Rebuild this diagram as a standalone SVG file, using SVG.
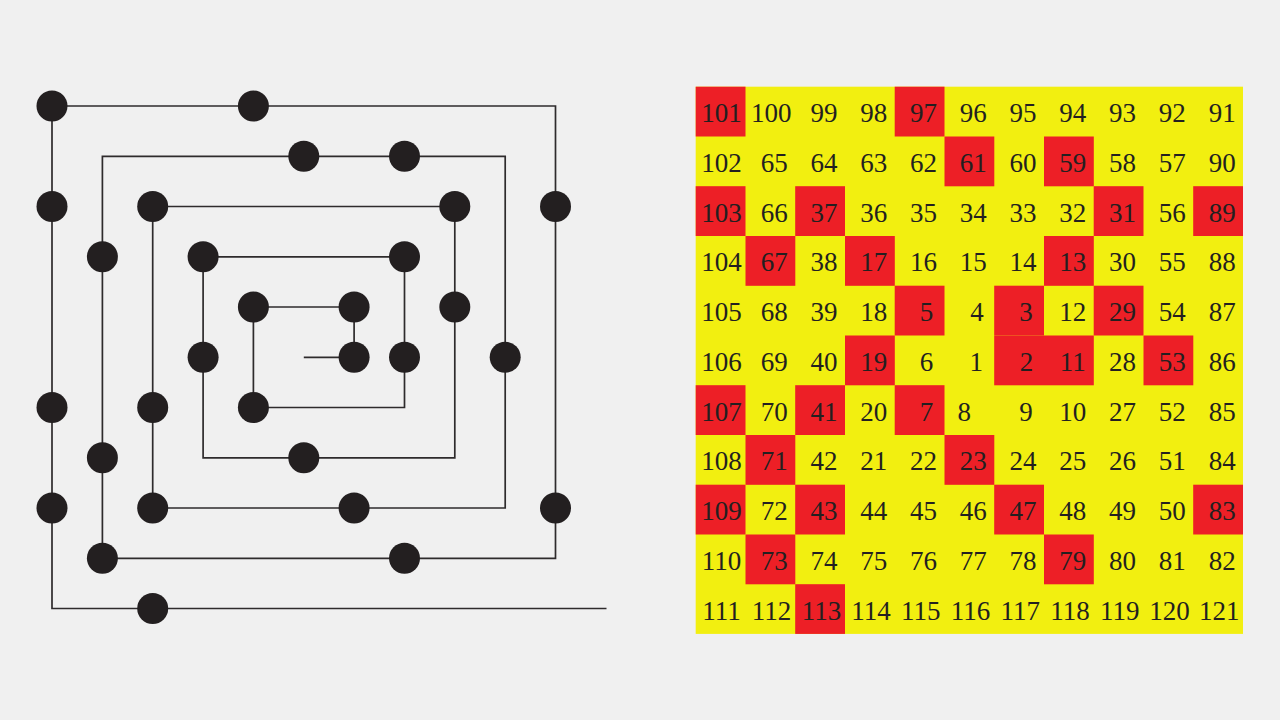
<svg xmlns="http://www.w3.org/2000/svg" width="1280" height="720" viewBox="0 0 1280 720">
<style>
.bg{fill:#f0f0f0}
.wire{fill:none;stroke:#2e2b2c;stroke-width:1.7}
.dot{fill:#231f20}
.yel{fill:#f2ef10}
.red{fill:#ed1f26}
.n{font-family:"Liberation Serif","Times New Roman",serif;font-size:27px;fill:#231f20;text-anchor:middle}
</style>
<rect class="bg" x="0" y="0" width="1280" height="720"/>
<g id="connectors">
<path class="wire" d="M303.8 357.3 H354.1 V307 H253.4 V407.5 H404.5 V256.8 H203.1 V457.8 H454.8 V206.5 H152.7 V508 H505.2 V156.3 H102.4 V558.3 H555.5 V106 H52 V608.5 H606.5"/>
</g>
<g id="primes-spiral">
<circle class="dot" cx="354.1" cy="357.3" r="15.5"/>
<circle class="dot" cx="354.1" cy="307" r="15.5"/>
<circle class="dot" cx="253.4" cy="307" r="15.5"/>
<circle class="dot" cx="253.4" cy="407.5" r="15.5"/>
<circle class="dot" cx="404.5" cy="357.3" r="15.5"/>
<circle class="dot" cx="404.5" cy="256.8" r="15.5"/>
<circle class="dot" cx="203.1" cy="256.8" r="15.5"/>
<circle class="dot" cx="203.1" cy="357.3" r="15.5"/>
<circle class="dot" cx="303.8" cy="457.8" r="15.5"/>
<circle class="dot" cx="454.8" cy="307" r="15.5"/>
<circle class="dot" cx="454.8" cy="206.5" r="15.5"/>
<circle class="dot" cx="152.7" cy="206.5" r="15.5"/>
<circle class="dot" cx="152.7" cy="407.5" r="15.5"/>
<circle class="dot" cx="152.7" cy="508" r="15.5"/>
<circle class="dot" cx="354.1" cy="508" r="15.5"/>
<circle class="dot" cx="505.2" cy="357.3" r="15.5"/>
<circle class="dot" cx="404.5" cy="156.3" r="15.5"/>
<circle class="dot" cx="303.8" cy="156.3" r="15.5"/>
<circle class="dot" cx="102.4" cy="256.8" r="15.5"/>
<circle class="dot" cx="102.4" cy="457.8" r="15.5"/>
<circle class="dot" cx="102.4" cy="558.3" r="15.5"/>
<circle class="dot" cx="404.5" cy="558.3" r="15.5"/>
<circle class="dot" cx="555.5" cy="508" r="15.5"/>
<circle class="dot" cx="555.5" cy="206.5" r="15.5"/>
<circle class="dot" cx="253.4" cy="106" r="15.5"/>
<circle class="dot" cx="52" cy="106" r="15.5"/>
<circle class="dot" cx="52" cy="206.5" r="15.5"/>
<circle class="dot" cx="52" cy="407.5" r="15.5"/>
<circle class="dot" cx="52" cy="508" r="15.5"/>
<circle class="dot" cx="152.7" cy="608.5" r="15.5"/>
</g>
<g id="grid">
<rect class="yel" x="695.7" y="86.7" width="547.3" height="547.2"/>
<rect class="red" x="695.7" y="86.7" width="49.8" height="49.8"/>
<rect class="red" x="894.7" y="86.7" width="49.8" height="49.8"/>
<rect class="red" x="944.5" y="136.5" width="49.8" height="49.8"/>
<rect class="red" x="1044" y="136.5" width="49.8" height="49.8"/>
<rect class="red" x="695.7" y="186.2" width="49.8" height="49.8"/>
<rect class="red" x="795.2" y="186.2" width="49.8" height="49.8"/>
<rect class="red" x="1093.7" y="186.2" width="49.8" height="49.8"/>
<rect class="red" x="1193.2" y="186.2" width="49.8" height="49.8"/>
<rect class="red" x="745.5" y="236" width="49.8" height="49.8"/>
<rect class="red" x="845" y="236" width="49.8" height="49.8"/>
<rect class="red" x="1044" y="236" width="49.8" height="49.8"/>
<rect class="red" x="894.7" y="285.7" width="49.8" height="49.8"/>
<rect class="red" x="994.2" y="285.7" width="49.8" height="49.8"/>
<rect class="red" x="1093.7" y="285.7" width="49.8" height="49.8"/>
<rect class="red" x="845" y="335.5" width="49.8" height="49.8"/>
<rect class="red" x="994.2" y="335.5" width="49.8" height="49.8"/>
<rect class="red" x="1044" y="335.5" width="49.8" height="49.8"/>
<rect class="red" x="1143.5" y="335.5" width="49.8" height="49.8"/>
<rect class="red" x="695.7" y="385.2" width="49.8" height="49.8"/>
<rect class="red" x="795.2" y="385.2" width="49.8" height="49.8"/>
<rect class="red" x="894.7" y="385.2" width="49.8" height="49.8"/>
<rect class="red" x="745.5" y="435" width="49.8" height="49.8"/>
<rect class="red" x="944.5" y="435" width="49.8" height="49.8"/>
<rect class="red" x="695.7" y="484.7" width="49.8" height="49.8"/>
<rect class="red" x="795.2" y="484.7" width="49.8" height="49.8"/>
<rect class="red" x="994.2" y="484.7" width="49.8" height="49.8"/>
<rect class="red" x="1193.2" y="484.7" width="49.8" height="49.8"/>
<rect class="red" x="745.5" y="534.5" width="49.8" height="49.8"/>
<rect class="red" x="1044" y="534.5" width="49.8" height="49.8"/>
<rect class="red" x="795.2" y="584.2" width="49.8" height="49.7"/>
</g>
<g id="numbers">
<text class="n" x="721.6" y="122.1">101</text><text class="n" x="771.3" y="122.1">100</text><text class="n" x="824.1" y="122.1">99</text><text class="n" x="873.8" y="122.1">98</text><text class="n" x="923.6" y="122.1">97</text><text class="n" x="973.3" y="122.1">96</text><text class="n" x="1023.1" y="122.1">95</text><text class="n" x="1072.8" y="122.1">94</text><text class="n" x="1122.6" y="122.1">93</text><text class="n" x="1172.3" y="122.1">92</text><text class="n" x="1222.2" y="122.1">91</text>
<text class="n" x="721.6" y="171.9">102</text><text class="n" x="774.3" y="171.9">65</text><text class="n" x="824.1" y="171.9">64</text><text class="n" x="873.8" y="171.9">63</text><text class="n" x="923.6" y="171.9">62</text><text class="n" x="973.3" y="171.9">61</text><text class="n" x="1023.1" y="171.9">60</text><text class="n" x="1072.8" y="171.9">59</text><text class="n" x="1122.6" y="171.9">58</text><text class="n" x="1172.3" y="171.9">57</text><text class="n" x="1222.2" y="171.9">90</text>
<text class="n" x="721.6" y="221.6">103</text><text class="n" x="774.3" y="221.6">66</text><text class="n" x="824.1" y="221.6">37</text><text class="n" x="873.8" y="221.6">36</text><text class="n" x="923.6" y="221.6">35</text><text class="n" x="973.3" y="221.6">34</text><text class="n" x="1023.1" y="221.6">33</text><text class="n" x="1072.8" y="221.6">32</text><text class="n" x="1122.6" y="221.6">31</text><text class="n" x="1172.3" y="221.6">56</text><text class="n" x="1222.2" y="221.6">89</text>
<text class="n" x="721.6" y="271.4">104</text><text class="n" x="774.3" y="271.4">67</text><text class="n" x="824.1" y="271.4">38</text><text class="n" x="873.8" y="271.4">17</text><text class="n" x="923.6" y="271.4">16</text><text class="n" x="973.3" y="271.4">15</text><text class="n" x="1023.1" y="271.4">14</text><text class="n" x="1072.8" y="271.4">13</text><text class="n" x="1122.6" y="271.4">30</text><text class="n" x="1172.3" y="271.4">55</text><text class="n" x="1222.2" y="271.4">88</text>
<text class="n" x="721.6" y="321.1">105</text><text class="n" x="774.3" y="321.1">68</text><text class="n" x="824.1" y="321.1">39</text><text class="n" x="873.8" y="321.1">18</text><text class="n" x="926.6" y="321.1">5</text><text class="n" x="977" y="321.1">4</text><text class="n" x="1026.1" y="321.1">3</text><text class="n" x="1072.8" y="321.1">12</text><text class="n" x="1122.6" y="321.1">29</text><text class="n" x="1172.3" y="321.1">54</text><text class="n" x="1222.2" y="321.1">87</text>
<text class="n" x="721.6" y="370.9">106</text><text class="n" x="774.3" y="370.9">69</text><text class="n" x="824.1" y="370.9">40</text><text class="n" x="873.8" y="370.9">19</text><text class="n" x="926.6" y="370.9">6</text><text class="n" x="976.3" y="370.9">1</text><text class="n" x="1026.6" y="370.9">2</text><text class="n" x="1072.8" y="370.9">11</text><text class="n" x="1122.6" y="370.9">28</text><text class="n" x="1172.3" y="370.9">53</text><text class="n" x="1222.2" y="370.9">86</text>
<text class="n" x="721.6" y="420.6">107</text><text class="n" x="774.3" y="420.6">70</text><text class="n" x="824.1" y="420.6">41</text><text class="n" x="873.8" y="420.6">20</text><text class="n" x="926.6" y="420.6">7</text><text class="n" x="964.3" y="420.6">8</text><text class="n" x="1026.1" y="420.6">9</text><text class="n" x="1072.8" y="420.6">10</text><text class="n" x="1122.6" y="420.6">27</text><text class="n" x="1172.3" y="420.6">52</text><text class="n" x="1222.2" y="420.6">85</text>
<text class="n" x="721.6" y="470.4">108</text><text class="n" x="774.3" y="470.4">71</text><text class="n" x="824.1" y="470.4">42</text><text class="n" x="873.8" y="470.4">21</text><text class="n" x="923.6" y="470.4">22</text><text class="n" x="973.3" y="470.4">23</text><text class="n" x="1023.1" y="470.4">24</text><text class="n" x="1072.8" y="470.4">25</text><text class="n" x="1122.6" y="470.4">26</text><text class="n" x="1172.3" y="470.4">51</text><text class="n" x="1222.2" y="470.4">84</text>
<text class="n" x="721.6" y="520.1">109</text><text class="n" x="774.3" y="520.1">72</text><text class="n" x="824.1" y="520.1">43</text><text class="n" x="873.8" y="520.1">44</text><text class="n" x="923.6" y="520.1">45</text><text class="n" x="973.3" y="520.1">46</text><text class="n" x="1023.1" y="520.1">47</text><text class="n" x="1072.8" y="520.1">48</text><text class="n" x="1122.6" y="520.1">49</text><text class="n" x="1172.3" y="520.1">50</text><text class="n" x="1222.2" y="520.1">83</text>
<text class="n" x="721.6" y="569.9">110</text><text class="n" x="774.3" y="569.9">73</text><text class="n" x="824.1" y="569.9">74</text><text class="n" x="873.8" y="569.9">75</text><text class="n" x="923.6" y="569.9">76</text><text class="n" x="973.3" y="569.9">77</text><text class="n" x="1023.1" y="569.9">78</text><text class="n" x="1072.8" y="569.9">79</text><text class="n" x="1122.6" y="569.9">80</text><text class="n" x="1172.3" y="569.9">81</text><text class="n" x="1222.2" y="569.9">82</text>
<text class="n" x="721.6" y="619.6">111</text><text class="n" x="771.6" y="619.6">112</text><text class="n" x="821.4" y="619.6">113</text><text class="n" x="871" y="619.6">114</text><text class="n" x="920.8" y="619.6">115</text><text class="n" x="970.5" y="619.6">116</text><text class="n" x="1020.3" y="619.6">117</text><text class="n" x="1070" y="619.6">118</text><text class="n" x="1119.8" y="619.6">119</text><text class="n" x="1169.5" y="619.6">120</text><text class="n" x="1219.2" y="619.6">121</text>
</g>
</svg>
